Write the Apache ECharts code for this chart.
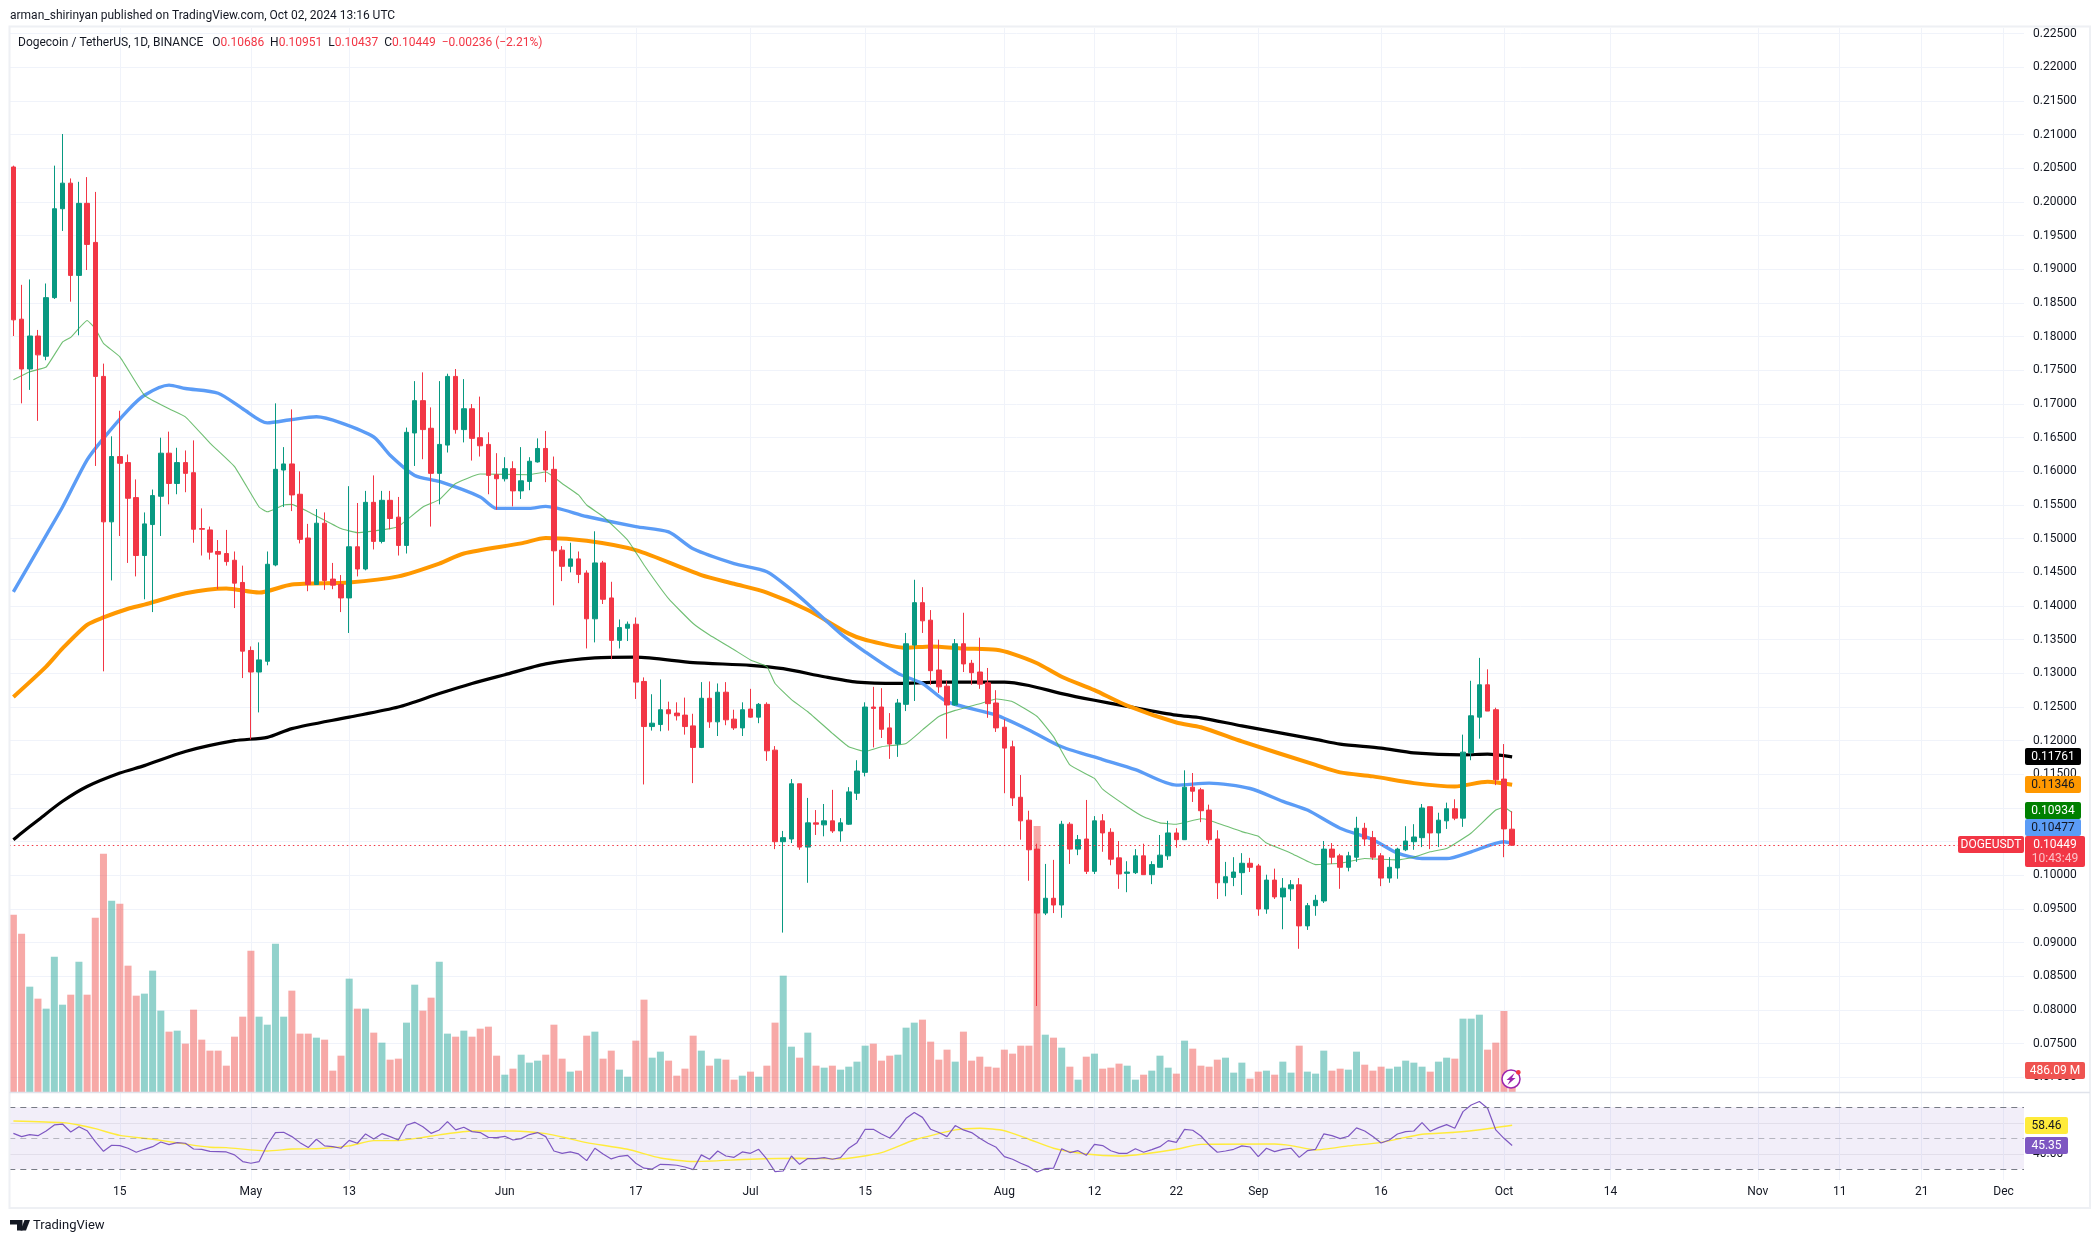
<!DOCTYPE html>
<html><head><meta charset="utf-8">
<style>html,body{margin:0;padding:0;background:#fff}#c{width:2100px;height:1243px}</style>
<script src="https://cdn.jsdelivr.net/npm/echarts@6/dist/echarts.min.js"></script>
</head><body><div id="c"></div>
<script>
// Each row: open, high, low, close, one row per day from 2024-04-02
const candleRows = [
[.2052,.2054,.1801,.1825],[.1826,.1877,.1701,.1752],[.1752,.1885,.1721,.1801],[.1801,.1810,.1675,.1773],[.1771,.1879,.1765,.1858],
[.1858,.2054,.1856,.1990],[.1990,.2101,.1957,.2028],[.2028,.2035,.1852,.1891],[.1891,.2030,.1802,.1998],[.1998,.2037,.1899,.1937],
[.1940,.2015,.1608,.1741],[.1741,.1760,.1303,.1525],[.1525,.1652,.1438,.1622],[.1622,.1690,.1504,.1612],[.1613,.1625,.1464,.1560],
[.1561,.1588,.1444,.1475],[.1475,.1539,.1410,.1522],[.1521,.1573,.1391,.1564],[.1563,.1650,.1504,.1627],[.1627,.1659,.1551,.1582],
[.1582,.1635,.1566,.1613],[.1613,.1631,.1569,.1597],[.1598,.1646,.1494,.1514],[.1515,.1545,.1475,.1514],[.1513,.1518,.1469,.1480],
[.1481,.1498,.1425,.1477],[.1478,.1513,.1460,.1466],[.1468,.1481,.1397,.1434],[.1435,.1460,.1293,.1333],[.1334,.1340,.1202,.1302],
[.1302,.1346,.1242,.1320],[.1318,.1481,.1312,.1462],[.1461,.1701,.1459,.1603],[.1602,.1636,.1547,.1611],[.1611,.1692,.1541,.1565],
[.1566,.1600,.1493,.1499],[.1501,.1522,.1422,.1432],[.1432,.1544,.1432,.1523],[.1523,.1539,.1424,.1438],[.1440,.1464,.1425,.1431],
[.1432,.1446,.1391,.1412],[.1412,.1578,.1360,.1488],[.1488,.1553,.1444,.1455],[.1455,.1571,.1453,.1554],[.1554,.1594,.1484,.1496],
[.1496,.1571,.1493,.1557],[.1557,.1571,.1514,.1530],[.1532,.1562,.1475,.1490],[.1490,.1665,.1478,.1658],[.1657,.1734,.1608,.1705],
[.1705,.1747,.1618,.1662],[.1664,.1695,.1518,.1597],[.1597,.1734,.1551,.1640],[.1639,.1745,.1628,.1741],[.1741,.1752,.1656,.1662],
[.1662,.1737,.1643,.1693],[.1693,.1700,.1616,.1649],[.1650,.1711,.1622,.1638],[.1640,.1658,.1566,.1594],[.1595,.1627,.1543,.1589],
[.1589,.1621,.1585,.1604],[.1604,.1615,.1548,.1571],[.1571,.1636,.1559,.1586],[.1585,.1621,.1572,.1615],[.1614,.1649,.1613,.1634],
[.1634,.1660,.1584,.1602],[.1603,.1622,.1401,.1482],[.1483,.1489,.1437,.1459],[.1459,.1494,.1450,.1470],[.1470,.1481,.1434,.1447],
[.1449,.1453,.1337,.1381],[.1381,.1511,.1346,.1464],[.1464,.1467,.1403,.1410],[.1412,.1436,.1321,.1349],[.1349,.1380,.1337,.1368],
[.1367,.1377,.1348,.1373],[.1373,.1383,.1262,.1287],[.1288,.1294,.1135,.1221],[.1221,.1269,.1215,.1226],[.1224,.1291,.1214,.1246],
[.1246,.1258,.1215,.1240],[.1241,.1257,.1230,.1237],[.1238,.1264,.1209,.1221],[.1222,.1240,.1137,.1190],[.1190,.1287,.1189,.1263],
[.1263,.1288,.1219,.1228],[.1228,.1285,.1207,.1272],[.1272,.1287,.1223,.1231],[.1232,.1246,.1216,.1219],[.1219,.1257,.1207,.1246],
[.1247,.1277,.1234,.1235],[.1235,.1256,.1226,.1254],[.1254,.1257,.1170,.1185],[.1186,.1192,.1039,.1050],[.1050,.1066,.0915,.1056],
[.1054,.1143,.1048,.1136],[.1136,.1136,.1038,.1042],[.1042,.1115,.0989,.1078],[.1078,.1097,.1060,.1076],[.1075,.1106,.1058,.1081],
[.1081,.1127,.1063,.1066],[.1066,.1085,.1050,.1078],[.1076,.1131,.1075,.1124],[.1122,.1171,.1112,.1155],[.1153,.1257,.1147,.1250],
[.1250,.1280,.1190,.1248],[.1250,.1278,.1204,.1217],[.1219,.1241,.1173,.1195],[.1195,.1262,.1176,.1256],[.1254,.1360,.1244,.1344],
[.1342,.1439,.1259,.1405],[.1405,.1428,.1360,.1378],[.1379,.1394,.1283,.1304],[.1305,.1350,.1271,.1280],[.1281,.1289,.1203,.1253],
[.1253,.1351,.1252,.1344],[.1344,.1390,.1302,.1314],[.1315,.1320,.1283,.1301],[.1302,.1353,.1277,.1284],[.1286,.1308,.1234,.1255],
[.1256,.1275,.1213,.1219],[.1220,.1232,.1122,.1189],[.1191,.1200,.1103,.1115],[.1116,.1149,.1053,.1081],[.1082,.1096,.0992,.1038],
[.1039,.1047,.0806,.0944],[.0944,.1017,.0941,.0966],[.0966,.1023,.0944,.0956],[.0956,.1081,.0937,.1076],[.1076,.1079,.1017,.1039],
[.1039,.1060,.1030,.1053],[.1054,.1112,.1002,.1006],[.1006,.1088,.1002,.1081],[.1081,.1091,.1035,.1063],[.1064,.1070,.1015,.1024],
[.1026,.1051,.0980,.1002],[.1003,.1021,.0975,.1005],[.1004,.1039,.1002,.1029],[.1029,.1047,.1001,.1001],[.1001,.1021,.0987,.1016],
[.1012,.1060,.1012,.1030],[.1029,.1081,.1023,.1063],[.1063,.1070,.1041,.1053],[.1053,.1156,.1053,.1131],[.1131,.1152,.1109,.1125],
[.1127,.1130,.1079,.1096],[.1097,.1105,.1047,.1053],[.1054,.1067,.0965,.0989],[.0989,.1020,.0969,.0998],[.0997,.1027,.0984,.1005],
[.1004,.1033,.0971,.1018],[.1018,.1026,.1005,.1012],[.1014,.1017,.0940,.0950],[.0950,.1001,.0943,.0993],[.0993,.1010,.0965,.0968],
[.0968,.0996,.0920,.0981],[.0980,.0993,.0962,.0986],[.0986,.0996,.0891,.0925],[.0925,.0959,.0919,.0955],[.0955,.0971,.0940,.0963],
[.0962,.1051,.0959,.1039],[.1039,.1048,.1017,.1027],[.1029,.1032,.0980,.1012],[.1012,.1035,.1006,.1029],[.1027,.1087,.1020,.1070],
[.1070,.1078,.1045,.1054],[.1056,.1066,.1023,.1027],[.1029,.1033,.0984,.0996],[.0996,.1027,.0989,.1012],[.1011,.1041,.0995,.1039],
[.1038,.1073,.1036,.1051],[.1050,.1076,.1038,.1057],[.1056,.1106,.1042,.1100],[.1102,.1102,.1039,.1063],[.1063,.1093,.1042,.1082],
[.1081,.1108,.1069,.1099],[.1099,.1113,.1082,.1085],[.1085,.1209,.1072,.1183],[.1182,.1289,.1171,.1237],[.1235,.1323,.1203,.1283],
[.1283,.1306,.1244,.1244],[.1246,.1249,.1134,.1142],[.1143,.1195,.1027,.1069],[.10686,.10951,.10437,.10449]
];
// Volume in millions of DOGE, same days
const volumes = [
4096,3658,2433,2156,1925,3126,2017,2248,3011,2248,4027,5506,4420,4351,2918,2225,2272,2803,1879,1394,
1417,1117,1902,1209,955,955,608,1278,1740,3265,1740,1555,3427,1740,2341,1348,1348,1255,1209,493,
839,2618,1925,1925,1371,1140,747,770,1602,2479,1879,2179,3011,1348,1278,1417,1278,1463,1509,839,
400,539,862,678,724,862,1555,770,470,493,1301,1394,770,955,516,354,1186,2133,793,932,
724,377,539,1301,955,608,770,747,285,377,470,354,608,1602,2687,1047,793,1371,608,562,
608,516,585,701,1070,1117,724,839,862,1486,1602,1671,1163,747,978,701,1394,724,816,585,
562,978,886,1070,1070,6145,1324,1255,1024,585,285,816,886,539,562,655,608,285,400,493,
839,562,424,1186,1001,608,585,747,793,447,678,308,470,493,400,701,447,1070,470,424,
955,493,539,516,932,631,493,585,539,585,724,678,585,470,701,793,770,1694,1694,1786,
978,1140,1871,486
];
// Moving averages read at visible vertices: [day index, price]
const ma200 = [[0,.1053],[1,.1063],[3,.1082],[6,.1110],[9,.1132],[13,.1152],[16,.1163],[21,.1184],[27,.1200],[31,.1205],[34,.1218],[41,.1235],[47,.1250],[52,.1270],[56,.1285],[60,.1298],[65,.1314],[71,.1323],[76,.1324],[83,.1316],[90,.1312],[94,.1307],[99,.1295],[103,.1287],[108,.1285],[113,.1287],[121,.1287],[124,.1282],[128,.1270],[132,.1260],[136,.1251],[142,.1238],[145,.1234],[150,.1222],[159,.1202],[162,.1195],[167,.1189],[171,.1182],[177,.1179],[180,.1180],[183,.11761]];
const ma100 = [[0,.1265],[4,.1310],[6,.1337],[9,.1372],[11,.1383],[14,.1396],[16,.1402],[21,.1419],[26,.1426],[30,.1420],[34,.1432],[41,.1435],[47,.1444],[52,.1463],[55,.1478],[62,.1493],[65,.1501],[70,.1497],[76,.1483],[84,.1446],[88,.1433],[92,.1420],[97,.1394],[102,.1359],[104,.1350],[109,.1338],[112,.1340],[116,.1337],[120,.1335],[122,.1329],[125,.1315],[128,.1295],[132,.1275],[136,.1252],[142,.1227],[145,.1220],[150,.1199],[159,.1164],[162,.1153],[166,.1147],[171,.1137],[176,.1132],[180,.1139],[183,.11346]];
const ma50 = [[0,.1421],[4,.1505],[6,.1547],[9,.1617],[11,.1649],[14,.1691],[16,.1713],[19,.1728],[21,.1723],[25,.1716],[28,.1693],[31,.1672],[34,.1677],[37,.1681],[40,.1672],[44,.1651],[46,.1624],[49,.1594],[52,.1585],[57,.1562],[59,.1545],[63,.1545],[65,.1548],[70,.1533],[76,.1518],[80,.1510],[83,.1485],[88,.1463],[92,.1451],[95,.1424],[97,.1403],[101,.1359],[104,.1332],[108,.1300],[111,.1285],[114,.1258],[120,.1238],[124,.1216],[128,.1191],[133,.1172],[137,.1157],[142,.1134],[146,.1137],[151,.1129],[155,.1110],[158,.1097],[162,.1070],[166,.1053],[169,.1033],[172,.1025],[175,.1025],[178,.1035],[182,.1050],[183,.10477]];
const ma20 = [[0,.1736],[2,.1748],[4,.1755],[6,.1792],[7,.1799],[9,.1824],[10,.1812],[11,.1790],[13,.1770],[16,.1713],[19,.1693],[21,.1681],[24,.1642],[27,.1607],[30,.1547],[31,.1540],[33,.1550],[34,.1551],[36,.1540],[40,.1515],[42,.1509],[46,.1515],[47,.1518],[50,.1547],[52,.1558],[54,.1582],[57,.1596],[63,.1595],[65,.1599],[67,.1582],[69,.1565],[70,.1550],[72,.1533],[75,.1498],[77,.1461],[80,.1411],[83,.1374],[85,.1357],[88,.1335],[90,.1320],[92,.1310],[93,.1285],[95,.1261],[97,.1243],[100,.1211],[102,.1191],[104,.1184],[106,.1191],[109,.1196],[111,.1216],[113,.1236],[115,.1245],[118,.1255],[120,.1262],[122,.1258],[125,.1236],[127,.1206],[129,.1164],[132,.1144],[133,.1128],[136,.1102],[138,.1087],[140,.1078],[142,.1076],[145,.1084],[146,.1082],[150,.1065],[152,.1058],[153,.1048],[156,.1033],[159,.1016],[162,.1018],[165,.1025],[169,.1023],[171,.1027],[173,.1035],[175,.1040],[176,.1047],[178,.1063],[181,.1097],[182,.1101],[183,.10934]];
const rsiValues = [
53.2,51.1,52.4,51.7,54.7,58.6,59.2,54.1,57.5,54.9,47.8,41.6,45.5,45.3,43.6,41.0,42.9,44.6,47.6,45.9,
47.2,46.8,43.1,42.9,41.6,41.4,41.2,39.3,35.0,33.9,35.0,45.7,53.7,53.9,51.1,47.2,44.0,49.4,45.1,44.6,
43.6,48.7,46.8,52.8,49.6,53.0,51.1,48.9,58.4,60.3,57.5,53.2,55.4,60.8,55.4,57.1,54.3,53.7,50.6,50.4,
51.3,48.9,49.8,52.4,53.7,51.1,41.8,40.3,41.2,39.9,35.6,43.6,39.9,36.7,38.4,39.0,33.9,30.7,30.2,33.2,
33.0,32.6,31.5,29.8,39.3,36.5,41.8,38.6,37.7,41.2,40.3,42.9,36.5,28.5,28.9,38.6,33.2,36.9,36.9,37.5,
36.5,37.5,43.6,47.2,55.8,55.8,52.8,50.2,55.8,62.9,66.6,63.5,55.8,53.7,51.1,58.2,55.4,53.7,50.0,46.8,
44.2,38.2,36.5,33.9,31.7,28.3,30.4,30.7,43.3,40.8,42.0,39.0,46.1,45.3,42.0,40.3,40.3,43.3,41.0,42.7,
44.6,48.5,47.4,55.8,55.2,51.5,45.7,41.0,41.8,42.9,45.1,44.4,38.2,43.6,41.4,42.9,43.6,37.7,42.0,42.9,
52.8,51.7,49.8,51.3,56.7,54.7,51.1,47.0,48.9,52.8,54.3,54.7,60.1,54.5,56.9,58.8,56.5,67.2,71.5,73.7,
69.4,55.4,50.0,45.35
];
const rsiMa = [[0,61.2],[6,60.1],[8,58.6],[10,56.2],[13,51.9],[17,49.4],[21,46.3],[24,44.2],[26,44.0],[31,41.8],[34,43.1],[37,43.3],[41,45.1],[44,48.5],[47,48.5],[50,50.6],[52,52.2],[56,54.7],[61,54.7],[65,53.0],[68,49.6],[70,47.2],[75,42.9],[79,37.3],[83,35.0],[90,36.5],[96,37.1],[101,36.7],[106,40.8],[110,48.9],[115,55.4],[118,56.5],[121,54.9],[124,49.4],[127,43.6],[131,39.9],[135,38.6],[138,39.9],[142,42.9],[145,46.1],[154,46.3],[156,45.3],[159,42.5],[163,45.1],[167,47.4],[172,52.6],[176,53.9],[180,56.2],[183,58.46]];
const tickLabels = {'2024-04-15':'15','2024-05-01':'May','2024-05-13':'13','2024-06-01':'Jun','2024-06-17':'17','2024-07-01':'Jul','2024-07-15':'15','2024-08-01':'Aug','2024-08-12':'12','2024-08-22':'22','2024-09-01':'Sep','2024-09-16':'16','2024-10-01':'Oct','2024-10-14':'14','2024-11-01':'Nov','2024-11-11':'11','2024-11-21':'21','2024-12-01':'Dec'};
const lastClose = 0.10449;

const categories = [];
for (let d = new Date(Date.UTC(2024,3,2)); categories.length < 246; d = new Date(d.getTime()+864e5)) categories.push(d.toISOString().slice(0,10));

const UP='#089981', DOWN='#F23645', GRID='#f0f3fa', INK='#131722';
const FONT='Roboto';
const isTick = (i, name) => name in tickLabels;
const L=9.3, W=2014.7;
const xBase = {type:'category',data:categories,boundaryGap:true,axisLine:{show:false},axisTick:{show:false},axisLabel:{show:false},splitLine:{show:false}};

const chart = echarts.init(document.getElementById('c'),null,{renderer:'canvas',width:2100,height:1243});
const tag = (y,h,w,fill,color,text,x=2025) => ({type:'rect',z:100,shape:{x,y,width:w,height:h,r:2},style:{fill}, textContent:{style:{text,fill:color,font:`12px ${FONT}`,align:'center',verticalAlign:'middle'},z:101},textConfig:{position:'inside'}});
const lineSeries = (data,color,width,opacity=1,smooth=0.25) => ({type:'line',xAxisIndex:0,yAxisIndex:0,data,showSymbol:false,symbol:'none',smooth,silent:true,z:3,lineStyle:{color,width,opacity,join:'round'},animation:false,clip:true});

chart.setOption({
  animation:false,backgroundColor:'#fff',
  grid:[
    {left:L,width:W,top:-0.15,height:1111.2},
    {left:L,width:W,top:28,height:1064},
    {left:L,width:W,top:1091.8,height:93}
  ],
  xAxis:[
    Object.assign({gridIndex:0},xBase),
    Object.assign({gridIndex:1},xBase,{splitLine:{show:true,alignWithLabel:true,interval:isTick,lineStyle:{color:GRID,width:1}}}),
    Object.assign({gridIndex:2},xBase,{
      splitLine:{show:true,alignWithLabel:true,interval:isTick,lineStyle:{color:GRID,width:1}},
      axisLabel:{show:true,interval:isTick,formatter:v=>tickLabels[v]||'',margin:1.5,color:INK,fontFamily:FONT,fontSize:12,hideOverlap:false}
    })
  ],
  yAxis:[
    {gridIndex:0,type:'value',position:'right',min:0.065,max:0.23,interval:0.005,scale:false,
      axisLine:{show:false},axisTick:{show:false},
      axisLabel:{margin:9,color:INK,fontFamily:FONT,fontSize:12,showMinLabel:false,showMaxLabel:false,formatter:v=>v.toFixed(5),hideOverlap:false},
      splitLine:{show:true,showMinLine:false,showMaxLine:false,lineStyle:{color:GRID,width:1}}},
    {gridIndex:1,type:'value',min:0,max:24578,show:false,splitLine:{show:false}},
    {gridIndex:2,type:'value',position:'right',min:20,max:80,interval:20,
      axisLine:{show:false},axisTick:{show:false},
      axisLabel:{margin:9,color:INK,fontFamily:FONT,fontSize:12,showMinLabel:false,showMaxLabel:false,formatter:v=>v.toFixed(2)},
      splitLine:{show:true,showMinLine:false,showMaxLine:false,lineStyle:{color:'rgba(120,123,134,0.13)',width:1}}}
  ],
  series:[
    {type:'bar',xAxisIndex:1,yAxisIndex:1,z:1,barWidth:7,silent:true,
      data:volumes.map((v,i)=>({value:v,itemStyle:{color:candleRows[i][3]>=candleRows[i][0]?'rgba(38,166,154,0.5)':'rgba(239,83,80,0.5)'}}))},
    lineSeries(ma200,'#000000',3.2),
    lineSeries(ma100,'#FF9800',4),
    lineSeries(ma50,'#5B9CF6',3.4),
    lineSeries(ma20,'#4CAF50',1.1,0.8,0.12),
    {type:'candlestick',xAxisIndex:0,yAxisIndex:0,z:4,barWidth:5,silent:true,
      data:candleRows.map(r=>[r[0],r[3],r[2],r[1]]),
      itemStyle:{color:UP,color0:DOWN,borderColor:UP,borderColor0:DOWN,borderColorDoji:UP,borderWidth:1},
      markLine:{silent:true,symbol:'none',animation:false,precision:5,label:{show:false},z:5,
        lineStyle:{color:DOWN,type:[1.5,3],width:1.2},data:[{yAxis:lastClose}]}},
    {type:'line',xAxisIndex:2,yAxisIndex:2,data:rsiValues,showSymbol:false,symbol:'none',z:4,silent:true,
      lineStyle:{color:'#7E57C2',width:1.2},
      markArea:{silent:true,itemStyle:{color:'rgba(126,87,194,0.1)'},data:[[{yAxis:30},{yAxis:70}]]},
      markLine:{silent:true,symbol:'none',label:{show:false},animation:false,
        data:[
          {yAxis:70,lineStyle:{color:'#787B86',type:[6,5],width:1.2}},
          {yAxis:50,lineStyle:{color:'rgba(120,123,134,0.5)',type:[6,5],width:1.2}},
          {yAxis:30,lineStyle:{color:'#787B86',type:[6,5],width:1.2}}
        ]}},
    {type:'line',xAxisIndex:2,yAxisIndex:2,data:rsiMa,showSymbol:false,symbol:'none',z:3,smooth:0.2,silent:true,lineStyle:{color:'#FFEB3B',width:1.4}}
  ],
  graphic:{elements:[
    {type:'rect',z:50,shape:{x:8,y:1180,width:2017,height:6},style:{fill:'#fff'}},
    {type:'rect',z:60,shape:{x:9.5,y:26.5,width:2080.5,height:1181.5},style:{fill:'none',stroke:'#eef0f4',lineWidth:2}},
    {type:'line',z:60,shape:{x1:9.5,y1:1092.5,x2:2090,y2:1092.5},style:{stroke:'#e0e3eb',lineWidth:1.4}},
    {type:'text',z:70,x:10,y:10,style:{text:'arman_shirinyan published on TradingView.com, Oct 02, 2024 13:16 UTC',fill:INK,font:`12px ${FONT}`}},
    {type:'text',z:70,x:18,y:37,style:{
      text:'{k|Dogecoin / TetherUS, 1D, BINANCE}   {k|O}{r|0.10686}  {k|H}{r|0.10951}  {k|L}{r|0.10437}  {k|C}{r|0.10449}  {r|−0.00236 (−2.21%)}',
      font:`12px ${FONT}`,rich:{k:{fill:INK,font:`12px ${FONT}`},r:{fill:DOWN,font:`12px ${FONT}`}}}},
    {type:'polygon',z:70,shape:{points:[[10,1220],[22.5,1220],[22.5,1230.5],[17,1230.5],[17,1224.5],[10,1224.5]]},style:{fill:INK}},
    {type:'polygon',z:70,shape:{points:[[30,1220],[26,1230.5],[20.5,1230.5],[24.5,1220]]},style:{fill:INK}},
    {type:'text',z:70,x:33,y:1219,style:{text:'TradingView',fill:INK,font:`13px ${FONT}`}},
    tag(748,17,56,'#000000','#ffffff','0.11761'),
    tag(776,17,56,'#FF9800',INK,'0.11346'),
    tag(802,17,56,'#008000','#ffffff','0.10934'),
    tag(819,17,56,'#5B9CF6',INK,'0.10477'),
    {type:'rect',z:100,shape:{x:2025,y:836,width:60,height:31,r:2},style:{fill:DOWN}},
    {type:'text',z:101,x:2055,y:844.5,style:{text:'0.10449',fill:'#fff',font:`12px ${FONT}`,align:'center',verticalAlign:'middle'}},
    {type:'text',z:101,x:2055,y:859,style:{text:'10:43:49',fill:'#fbc4ca',font:`12px ${FONT}`,align:'center',verticalAlign:'middle'}},
    tag(836,17,66,DOWN,'#ffffff','DOGEUSDT',1958),
    tag(1062,17,60,'#EF5350','#ffffff','486.09 M'),
    tag(1117,17,43,'#FFEB3B',INK,'58.46'),
    tag(1137,17,43,'#7E57C2','#ffffff','45.35'),
    {type:'circle',z:90,shape:{cx:1511,cy:1079,r:9},style:{fill:'#fff',stroke:'#9C27B0',lineWidth:1.5}},
    {type:'polygon',z:91,shape:{points:[[1514.5,1073],[1506.5,1080],[1510,1080],[1507.5,1085],[1515.5,1078],[1512,1078]]},style:{fill:'#9C27B0'}},
    {type:'circle',z:92,shape:{cx:1518.3,cy:1072.3,r:2.4},style:{fill:'#F23645'}}
  ]}
});
</script></body></html>
